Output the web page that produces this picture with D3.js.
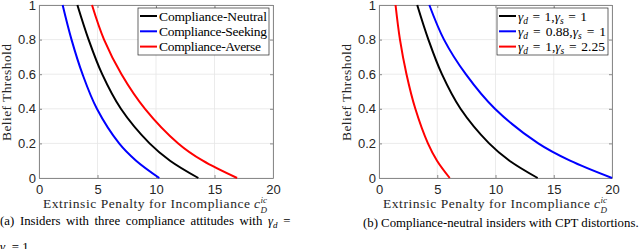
<!DOCTYPE html>
<html>
<head>
<meta charset="utf-8">
<script src="https://cdn.jsdelivr.net/npm/d3@7"></script>
<style>
  body { margin: 0; background: #fff; }
  svg { display: block; }
</style>
</head>
<body>
<svg id="vis" width="640" height="249"></svg>
<script>
// belief threshold levels (y) and the penalty where each curve crosses them (x)
var beliefLevels = [1, 0.8, 0.6, 0.4, 0.2, 0.1, 0];

// (a) compliance attitudes
var neutralPenalty = [3.28, 4.24, 5.40, 7.00, 9.45, 11.2, 13.62];
var seekingPenalty = [2.02, 2.78, 3.72, 4.95, 6.85, 8.30, 10.28];
var aversePenalty  = [4.53, 5.56, 7.05, 9.06, 11.9, 14.0, 16.93];

// (b) CPT distortions
var cptNeutralPenalty = [3.28, 4.24, 5.40, 7.00, 9.45, 11.2, 13.62];
var cptGammaDPenalty  = [4.32, 5.58, 7.45, 9.95, 13.67, 16.4, 20.0];
var cptGammaSPenalty  = [1.42, 1.80, 2.36, 3.12, 4.20, 4.98, 6.07];

var xTicks = [0, 5, 10, 15, 20];
var yTicks = [0, 0.2, 0.4, 0.6, 0.8, 1];

var vis = d3.select("#vis");
var TOP = 5, BOTTOM = 178;
// single names only
var SANS = "Liberation Sans";
var SERIF = "Liberation Serif";

// stretch the spaces of a text so it spans w pixels (latex-ish spacing)
function spreadTo(t, w, maxGap) {
  var n = t.node();
  var nat = n.getComputedTextLength();
  var spaces = (n.textContent.match(/ /g) || []).length;
  if (spaces > 0 && nat < w) {
    var gap = (w - nat) / spaces;
    if (maxGap !== undefined) gap = Math.min(gap, maxGap);
    t.style("word-spacing", gap + "px");
  }
}

function drawPanel(left, right, series, legend) {
  var xScale = d3.scaleLinear().domain([0, 20]).range([left, right]);
  var yScale = d3.scaleLinear().domain([0, 1]).range([BOTTOM, TOP]);
  var g = vis.append("g");

  // grid
  g.selectAll(".gx").data(xTicks).enter().append("line")
    .attr("x1", function(d) { return xScale(d); }).attr("x2", function(d) { return xScale(d); })
    .attr("y1", TOP).attr("y2", BOTTOM)
    .attr("stroke", "#e6e6e6").attr("stroke-width", 0.8);
  g.selectAll(".gy").data(yTicks).enter().append("line")
    .attr("y1", function(d) { return yScale(d); }).attr("y2", function(d) { return yScale(d); })
    .attr("x1", left).attr("x2", right)
    .attr("stroke", "#e6e6e6").attr("stroke-width", 0.8);

  // axes, ticks pointing in like matlab
  var xAxis = d3.axisBottom(xScale).tickValues(xTicks).tickSizeInner(-3).tickSizeOuter(0).tickPadding(7);
  var yAxis = d3.axisLeft(yScale).tickValues(yTicks).tickSizeInner(-3).tickSizeOuter(0).tickPadding(3)
    .tickFormat(function(d) { return d === 0 || d === 1 ? d : d3.format(".1f")(d); });
  var xTop = d3.axisTop(xScale).tickValues(xTicks).tickSizeInner(-3).tickSizeOuter(0).tickFormat("");
  var yRight = d3.axisRight(yScale).tickValues(yTicks).tickSizeInner(-3).tickSizeOuter(0).tickFormat("");

  [
    g.append("g").attr("transform", "translate(0," + BOTTOM + ")").call(xAxis),
    g.append("g").attr("transform", "translate(" + left + ",0)").call(yAxis),
    g.append("g").attr("transform", "translate(0," + TOP + ")").call(xTop),
    g.append("g").attr("transform", "translate(" + right + ",0)").call(yRight)
  ].forEach(function(a) {
    a.attr("font-family", SANS);
    a.select(".domain").attr("stroke", "#8a8a8a");
    a.selectAll(".tick line").attr("stroke", "#8a8a8a");
    a.selectAll("text").style("font-family", SANS).style("font-size", "13px").attr("fill", "#262626");
  });

  // curves
  var line = d3.line()
    .x(function(d) { return xScale(d[0]); })
    .y(function(d) { return yScale(d[1]); })
    .curve(d3.curveCatmullRom.alpha(0.5));
  series.forEach(function(s) {
    var pts = s.values.map(function(v, i) { return [v, beliefLevels[i]]; });
    g.append("path").datum(pts).attr("d", line)
      .attr("fill", "none").attr("stroke", s.color).attr("stroke-width", 2);
  });

  // axis labels
  g.append("text").attr("x", left + 4).attr("y", 208)
    .attr("textLength", 207).attr("lengthAdjust", "spacing")
    .style("font-family", SERIF).style("font-size", "13.5px").attr("fill", "#262626")
    .text("Extrinsic Penalty for Incompliance");
  var cx = left + 215;
  g.append("text").attr("x", cx).attr("y", 208)
    .style("font-family", SERIF).style("font-style", "italic").style("font-size", "13.5px").attr("fill", "#262626").text("c");
  g.append("text").attr("x", cx + 6.5).attr("y", 202.5)
    .style("font-family", SERIF).style("font-style", "italic").style("font-size", "9px").attr("fill", "#262626").text("ic");
  g.append("text").attr("x", cx + 6.5).attr("y", 212.5)
    .style("font-family", SERIF).style("font-style", "italic").style("font-size", "9px").attr("fill", "#262626").text("D");

  g.append("text")
    .attr("transform", "translate(" + (left - 28) + "," + ((TOP + BOTTOM) / 2 + 1) + ") rotate(-90)")
    .attr("text-anchor", "middle").attr("textLength", 97).attr("lengthAdjust", "spacing")
    .style("font-family", SERIF).style("font-size", "13.5px").attr("fill", "#262626")
    .text("Belief Threshold");

  // legend
  var lg = g.append("g");
  lg.append("rect").attr("x", legend.x).attr("y", 8).attr("width", legend.w).attr("height", 47)
    .attr("fill", "#fff").attr("stroke", "#262626").attr("stroke-width", 0.7);
  series.forEach(function(s, i) {
    var y = 16 + i * 15.3;
    lg.append("line").attr("x1", legend.x + 2).attr("x2", legend.x + 19).attr("y1", y).attr("y2", y)
      .attr("stroke", s.color).attr("stroke-width", 2);
    var t = lg.append("text").attr("x", legend.x + 21).attr("y", y + 4.5)
      .style("font-family", SERIF).style("font-size", "13.5px").attr("fill", "#000");
    s.label(t, legend.textW[i]);
  });
}

function plain(str) {
  return function(t, w) { t.text(str).attr("textLength", w).attr("lengthAdjust", "spacing"); };
}
function gammaLabel(d, s) {
  return function(t, w) {
    t.append("tspan").style("font-style", "italic").text("γ");
    t.append("tspan").style("font-style", "italic").style("font-size", "9.5px").attr("dy", 3).text("d");
    t.append("tspan").attr("dy", -3).text(" = " + d + ",");
    t.append("tspan").style("font-style", "italic").text("γ");
    t.append("tspan").style("font-style", "italic").style("font-size", "9.5px").attr("dy", 3).text("s");
    t.append("tspan").attr("dy", -3).text(" = " + s);
    spreadTo(t, w);
  };
}

drawPanel(39, 273, [
  { values: neutralPenalty, color: "#000000", label: plain("Compliance-Neutral") },
  { values: seekingPenalty, color: "#0000ff", label: plain("Compliance-Seeking") },
  { values: aversePenalty,  color: "#ff0000", label: plain("Compliance-Averse") }
], { x: 138, w: 131, textW: [108, 108, 102] });

drawPanel(379, 612, [
  { values: cptNeutralPenalty, color: "#000000", label: gammaLabel("1", "1") },
  { values: cptGammaDPenalty,  color: "#0000ff", label: gammaLabel("0.88", "1") },
  { values: cptGammaSPenalty,  color: "#ff0000", label: gammaLabel("1", "2.25") }
], { x: 497, w: 111, textW: [69, 88, 87] });

// captions
var capA = vis.append("text").attr("x", 0).attr("y", 225)
  .style("font-family", SERIF).style("font-size", "12.8px").attr("fill", "#000");
capA.append("tspan").text("(a) Insiders with three compliance attitudes with ");
capA.append("tspan").style("font-style", "italic").text("γ");
capA.append("tspan").style("font-style", "italic").style("font-size", "9px").attr("dy", 3).text("d");
capA.append("tspan").attr("dy", -3).text(" =");
spreadTo(capA, 308, 2.5);
var capA2 = vis.append("text").attr("x", 0).attr("y", 251)
  .style("font-family", SERIF).style("font-size", "12.8px").attr("fill", "#000");
capA2.append("tspan").style("font-style", "italic").text("γ");
capA2.append("tspan").style("font-style", "italic").style("font-size", "9px").attr("dy", 3).text("s");
capA2.append("tspan").attr("dy", -3).text(" = 1.");

vis.append("text").attr("x", 363).attr("y", 227)
  .style("font-family", SERIF).style("font-size", "12.8px").attr("fill", "#000")
  .text("(b) Compliance-neutral insiders with CPT distortions.");
</script>
</body>
</html>
